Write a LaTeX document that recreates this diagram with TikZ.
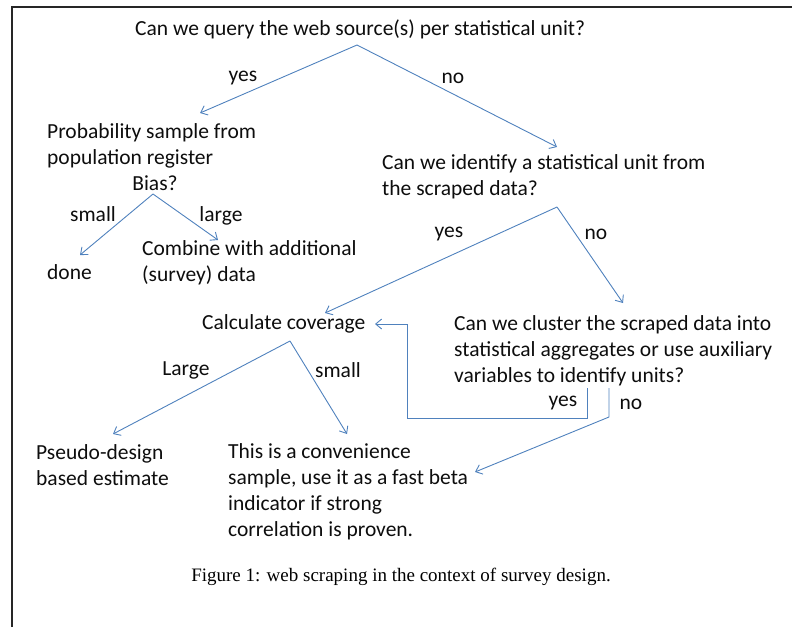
\documentclass[tikz,border=0pt]{standalone}
\usepackage{fontspec}
\setmainfont{Carlito}
\newfontfamily\capfont{Liberation Serif}
\usetikzlibrary{arrows.meta}
\definecolor{linkblue}{RGB}{79,129,189}
\tikzset{
  txt/.style={inner sep=0pt, text=black!95, align=left, font=\fontsize{21.5}{26}\selectfont},
  lbl/.style={inner sep=0pt, text=black!95, font=\fontsize{21.5}{26}\selectfont},
  link/.style={draw=linkblue, line width=0.9pt, -{Straight Barb[length=6pt,width=10pt]}},
  plainlink/.style={draw=linkblue, line width=0.9pt}
}

\begin{document}
\begin{tikzpicture}[x=1pt,y=-1pt]
	\useasboundingbox (0,0) rectangle (792,627);
	%page frame
	\draw[black!85, line width=1.8pt] (12,627) -- (12,7) -- (792,7);
	%questions and outcomes
	\node[txt, anchor=west] (query) at (135,29) {Can we query the web source(s) per statistical unit?};
	\node[txt, anchor=west] (prob) at (47,145.5) {Probability sample from\\population register};
	\node[txt] (bias) at (155,183) {Bias?};
	\node[txt, anchor=west] (done) at (47,272) {done};
	\node[txt, anchor=west] (combine) at (142,263) {Combine with additional\\(survey) data};
	\node[txt, anchor=west] (ident) at (382,176.5) {Can we identify a statistical unit from\\the scraped data?};
	\node[txt, anchor=west] (calc) at (202,324) {Calculate coverage};
	\node[txt, anchor=west] (cluster) at (454,351) {Can we cluster the scraped data into\\statistical aggregates or use auxiliary\\variables to identify units?};
	\node[txt, anchor=west] (pseudo) at (36,465.5) {Pseudo-design\\based estimate};
	\node[txt, anchor=west] (conv) at (228,491.5) {This is a convenience\\sample, use it as a fast beta\\indicator if strong\\correlation is proven.};
	%branch points and arrow ends
	\coordinate (queryfork) at (357,45);
	\coordinate (biasfork) at (153,194);
	\coordinate (identfork) at (557,207);
	\coordinate (calcfork) at (290,341);
	\coordinate (clusteryes) at (587,388);
	\coordinate (clusterno) at (609,388);
	\coordinate (prob in) at (200,113);
	\coordinate (ident in) at (557,147);
	\coordinate (done in) at (80,255);
	\coordinate (combine in) at (218,240);
	\coordinate (calc in) at (325,313);
	\coordinate (cluster in) at (623,303);
	\coordinate (pseudo in) at (113,434);
	\coordinate (conv in) at (347,434);
	\coordinate (conv side) at (475,472);
	%connectors
	\draw[link] (queryfork) -- (prob in);
	\draw[link] (queryfork) -- (ident in);
	\draw[link] (biasfork) -- (done in);
	\draw[link] (biasfork) -- (combine in);
	\draw[link] (identfork) -- (calc in);
	\draw[link] (identfork) -- (cluster in);
	\draw[link] (calcfork) -- (pseudo in);
	\draw[link] (calcfork) -- (conv in);
	\draw[link] (clusteryes) -- ++(0,30) -| (407,324) -- (calc.east -| 375,0);
	\draw[link] (clusterno) -- ++(0,29) -- (conv side);
	%branch labels
	\node[lbl] (q yes) at (243,78) {yes};
	\node[lbl] (q no) at (453,78) {no};
	\node[lbl] (b small) at (93,214) {small};
	\node[lbl] (b large) at (221,216) {large};
	\node[lbl] (i yes) at (449,234) {yes};
	\node[lbl] (i no) at (596,234) {no};
	\node[lbl] (c large) at (186,370) {Large};
	\node[lbl] (c small) at (338,370) {small};
	\node[lbl] (k yes) at (563,403) {yes};
	\node[lbl] (k no) at (631,404) {no};
	%caption
	\node[inner sep=0pt, font=\capfont\fontsize{19}{22}\selectfont] (caption) at (401,577) {Figure 1: web scraping in the context of survey design.};
\end{tikzpicture}
\end{document}
